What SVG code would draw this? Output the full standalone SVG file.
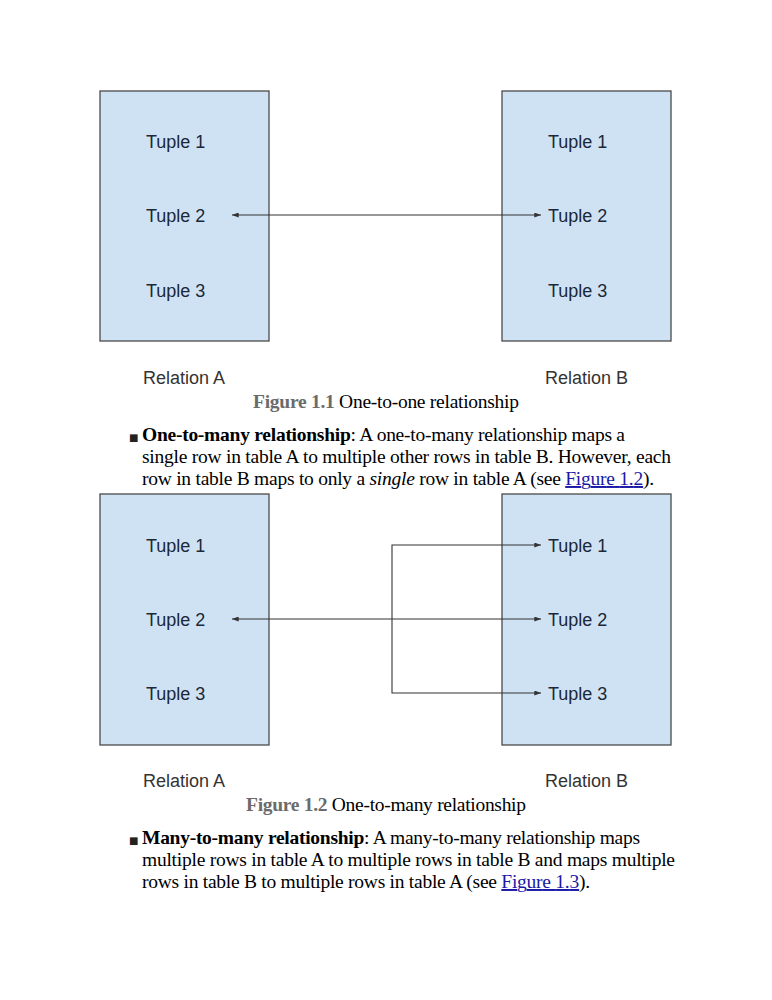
<svg xmlns="http://www.w3.org/2000/svg" width="772" height="1000" viewBox="0 0 772 1000">
<defs>
<style>
.box{fill:#cfe2f3;stroke:#4a4a4a;stroke-width:1.3}
.tup{font-family:"Liberation Sans",Arial,sans-serif;font-size:18px;fill:#1c2838}
.rel{font-family:"Liberation Sans",Arial,sans-serif;font-size:18px;fill:#333}
.cap{font-family:"Liberation Serif","Times New Roman",serif;font-size:19.5px;fill:#000}
.fig{font-weight:bold;fill:#6b6b6b}
.body{font-family:"Liberation Serif","Times New Roman",serif;font-size:19.5px;fill:#000}
.bullet{font-family:"DejaVu Sans",sans-serif;font-size:10px;fill:#222}
.link{fill:#1a1aa6;text-decoration:underline}
.conn{stroke:#333;stroke-width:1.1;fill:none}
</style>
<marker id="ah" viewBox="0 0 8 6" refX="8" refY="3" markerWidth="7" markerHeight="5" orient="auto-start-reverse" markerUnits="userSpaceOnUse">
<path d="M0,0 L8,3 L0,6 z" fill="#333"/>
</marker>
</defs>
<rect width="772" height="1000" fill="#fff"/>

<g id="fig1-relA">
<rect class="box" x="100" y="91" width="169" height="250"/>
<text class="tup" x="146" y="148">Tuple 1</text>
<text class="tup" x="146" y="222">Tuple 2</text>
<text class="tup" x="146" y="297">Tuple 3</text>
</g>
<g id="fig1-relB">
<rect class="box" x="502" y="91" width="169" height="250"/>
<text class="tup" x="548" y="148">Tuple 1</text>
<text class="tup" x="548" y="222">Tuple 2</text>
<text class="tup" x="548" y="297">Tuple 3</text>
</g>
<g id="fig1-connectors">
<line class="conn" x1="232" y1="215" x2="541" y2="215" marker-start="url(#ah)" marker-end="url(#ah)"/>
</g>
<g id="fig1-labels">
<text class="rel" x="143" y="384">Relation A</text>
<text class="rel" x="545" y="384">Relation B</text>
<text class="cap" x="253" y="408" textLength="266" lengthAdjust="spacing"><tspan class="fig">Figure 1.1</tspan> One-to-one relationship</text>
</g>

<g id="para1">
<text class="bullet" x="129" y="441">■</text>
<text class="body" x="142" y="441" textLength="483" lengthAdjust="spacing"><tspan font-weight="bold">One-to-many relationship</tspan>: A one-to-many relationship maps a</text>
<text class="body" x="142" y="463" textLength="529" lengthAdjust="spacing">single row in table A to multiple other rows in table B. However, each</text>
<text class="body" x="142" y="485" textLength="512" lengthAdjust="spacing">row in table B maps to only a <tspan font-style="italic">single</tspan> row in table A (see <tspan class="link">Figure 1.2</tspan>).</text>
</g>

<g id="fig2-relA">
<rect class="box" x="100" y="494" width="169" height="251"/>
<text class="tup" x="146" y="552">Tuple 1</text>
<text class="tup" x="146" y="626">Tuple 2</text>
<text class="tup" x="146" y="700">Tuple 3</text>
</g>
<g id="fig2-relB">
<rect class="box" x="502" y="494" width="169" height="251"/>
<text class="tup" x="548" y="552">Tuple 1</text>
<text class="tup" x="548" y="626">Tuple 2</text>
<text class="tup" x="548" y="700">Tuple 3</text>
</g>
<g id="fig2-connectors">
<line class="conn" x1="232" y1="619" x2="541" y2="619" marker-start="url(#ah)" marker-end="url(#ah)"/>
<polyline class="conn" points="541,545 392,545 392,693 541,693" marker-start="url(#ah)" marker-end="url(#ah)"/>
</g>
<g id="fig2-labels">
<text class="rel" x="143" y="787">Relation A</text>
<text class="rel" x="545" y="787">Relation B</text>
<text class="cap" x="246" y="811" textLength="280" lengthAdjust="spacing"><tspan class="fig">Figure 1.2</tspan> One-to-many relationship</text>
</g>

<g id="para2">
<text class="bullet" x="129" y="844">■</text>
<text class="body" x="142" y="844" textLength="498" lengthAdjust="spacing"><tspan font-weight="bold">Many-to-many relationship</tspan>: A many-to-many relationship maps</text>
<text class="body" x="142" y="866" textLength="533" lengthAdjust="spacing">multiple rows in table A to multiple rows in table B and maps multiple</text>
<text class="body" x="142" y="888" textLength="448" lengthAdjust="spacing">rows in table B to multiple rows in table A (see <tspan class="link">Figure 1.3</tspan>).</text>
</g>
</svg>
